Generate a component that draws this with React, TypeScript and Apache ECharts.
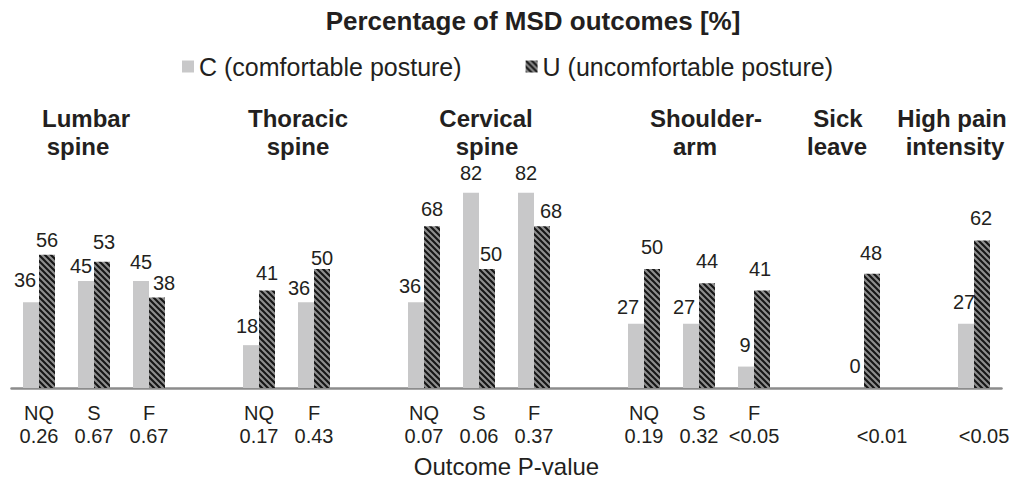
import React, { useEffect, useRef } from "react";
import * as echarts from "echarts";

// ---- data ----
const outcomeCodes = ["NQ", "S", "F", "", "NQ", "F", "", "NQ", "S", "F", "", "NQ", "S", "F", "", "", "", ""];
const pValues = ["0.26", "0.67", "0.67", "", "0.17", "0.43", "", "0.07", "0.06", "0.37", "", "0.19", "0.32", "<0.05", "", "<0.01", "", "<0.05"];
const comfortable: (number | null)[] = [36, 45, 45, null, 18, 36, null, 36, 82, 82, null, 27, 27, 9, null, 0, null, 27];
const uncomfortable: (number | null)[] = [56, 53, 38, null, 41, 50, null, 68, 50, 68, null, 50, 44, 41, null, 48, null, 62];
const groupTitles = [
  ["Lumbar", "spine"],
  ["Thoracic", "spine"],
  ["Cervical", "spine"],
  ["Shoulder-", "arm"],
  ["Sick", "leave"],
  ["High pain", "intensity"],
];

// ---- layout (label nudges and title placement) ----
const labelNudgeC: [number, number][] = [
  [-6, -7], [-5, 0], [0, -4], [0, 0], [-4, -4], [-7, 1], [0, 0], [-6, -1], [0, -5], [0, -5],
  [0, 0], [-8, -2], [-7, -2], [-1, -7], [0, 0], [-1, -7], [0, 0], [-2, -7],
];
const labelNudgeU: [number, number][] = [
  [0, 0], [2, -5], [7, 0], [0, 0], [0, -2], [0, 4], [0, 0], [0, -2], [4, 0], [9, 0],
  [0, 0], [0, -7], [0, -7], [-2, -6], [0, 0], [-1, -6], [0, 0], [-1, -7],
];
const axisLabelShift = [0, 0, 0, 0, 0, 0, 0, 0, 0, 0, 0, 0, 0, 0, 0, 36, 0, 20];
const titleLineX: [number, number][] = [
  [86, 78], [298, 298], [486, 487], [706, 695], [838, 837], [952, 955],
];

const FONT = "'Liberation Sans', Arial, Helvetica, sans-serif";
const TEXT = "#231f20";

function makeHatch(): HTMLCanvasElement {
  const s = 6;
  const c = document.createElement("canvas");
  c.width = s;
  c.height = s;
  const g = c.getContext("2d")!;
  g.fillStyle = "#8e8e8e";
  g.fillRect(0, 0, s, s);
  g.strokeStyle = "#161616";
  g.lineWidth = 2.1;
  g.beginPath();
  g.moveTo(-1, -1);
  g.lineTo(s + 1, s + 1);
  g.moveTo(-1, s - 1);
  g.lineTo(1, s + 1);
  g.moveTo(s - 1, -1);
  g.lineTo(s + 1, 1);
  g.stroke();
  return c;
}

export default function App() {
  const ref = useRef<HTMLDivElement>(null);
  useEffect(() => {
    if (!ref.current) return;
    const chart = echarts.init(ref.current, undefined, { renderer: "svg" });
    const hatchCanvas = makeHatch();
    const hatch: any = {
      image: hatchCanvas.toDataURL(),
      repeat: "repeat",
      imageWidth: 6,
      imageHeight: 6,
    };
    const categories = outcomeCodes.map((c, i) => (c || pValues[i] ? `${c}\n${pValues[i]}` : ""));
    const shiftStyles: any = {};
    axisLabelShift.forEach((s, i) => {
      if (s) {
        shiftStyles["s" + i] = {
          fontSize: 20,
          lineHeight: 23,
          color: TEXT,
          fontFamily: FONT,
          padding: [0, 0, 0, s],
        };
      }
    });

    const mk = (vals: (number | null)[], nudges: [number, number][]) =>
      vals.map((v, i) => (v === null ? "-" : { value: v, label: { offset: nudges[i] } }));

    const graphics: any[] = [
      {
        type: "text",
        x: 533,
        y: 21,
        style: {
          text: "Percentage of MSD outcomes [%]",
          font: `bold 26px ${FONT}`,
          fill: TEXT,
          textAlign: "center",
          textVerticalAlign: "middle",
        },
      },
    ];
    groupTitles.forEach((lines, gi) => {
      lines.forEach((ln, li) => {
        graphics.push({
          type: "text",
          x: titleLineX[gi][li],
          y: li === 0 ? 118 : 146,
          style: {
            text: ln,
            font: `bold 24px ${FONT}`,
            fill: TEXT,
            textAlign: "center",
            textVerticalAlign: "middle",
          },
        });
      });
    });

    const labelBase = {
      show: true,
      position: "top",
      distance: 5,
      fontSize: 20,
      fontFamily: FONT,
      color: TEXT,
    };

    chart.setOption({
      animation: false,
      backgroundColor: "#ffffff",
      graphic: graphics,
      legend: {
        left: 177,
        top: 49,
        itemWidth: 12,
        itemHeight: 12,
        itemGap: 64,
        icon: "rect",
        textStyle: { fontSize: 25, fontFamily: FONT, color: TEXT },
        data: ["C (comfortable posture)", "U (uncomfortable posture)"],
      },
      grid: {
        left: 11.5,
        right: 10.5,
        top: 150,
        bottom: 92,
        containLabel: false,
        outerBoundsMode: "none",
      },
      xAxis: {
        type: "category",
        data: categories,
        axisTick: { show: false },
        axisLine: { lineStyle: { color: "#8c8c8c", width: 2.5 } },
        axisLabel: {
          interval: 0,
          fontSize: 20,
          lineHeight: 23,
          margin: 13,
          color: TEXT,
          fontFamily: FONT,
          formatter: (val: string, idx: number) =>
            axisLabelShift[idx] ? `{s${idx}|${val}}` : val,
          rich: shiftStyles,
        },
        name: "Outcome P-value",
        nameLocation: "middle",
        nameGap: 66,
        nameTextStyle: { fontSize: 24, color: TEXT, fontFamily: FONT },
      },
      yAxis: { type: "value", min: 0, max: 100, show: false },
      series: [
        {
          name: "C (comfortable posture)",
          type: "bar",
          barWidth: 16,
          barGap: "0%",
          data: mk(comfortable, labelNudgeC),
          itemStyle: { color: "#c8c8c9" },
          label: labelBase,
        },
        {
          name: "U (uncomfortable posture)",
          type: "bar",
          barWidth: 16,
          barGap: "0%",
          data: mk(uncomfortable, labelNudgeU),
          itemStyle: { color: hatch },
          label: labelBase,
        },
      ],
    });
    return () => chart.dispose();
  }, []);
  return (
    <div
      ref={ref}
      style={{ position: "fixed", left: 0, top: 0, width: 1012, height: 480, background: "#fff" }}
    />
  );
}
